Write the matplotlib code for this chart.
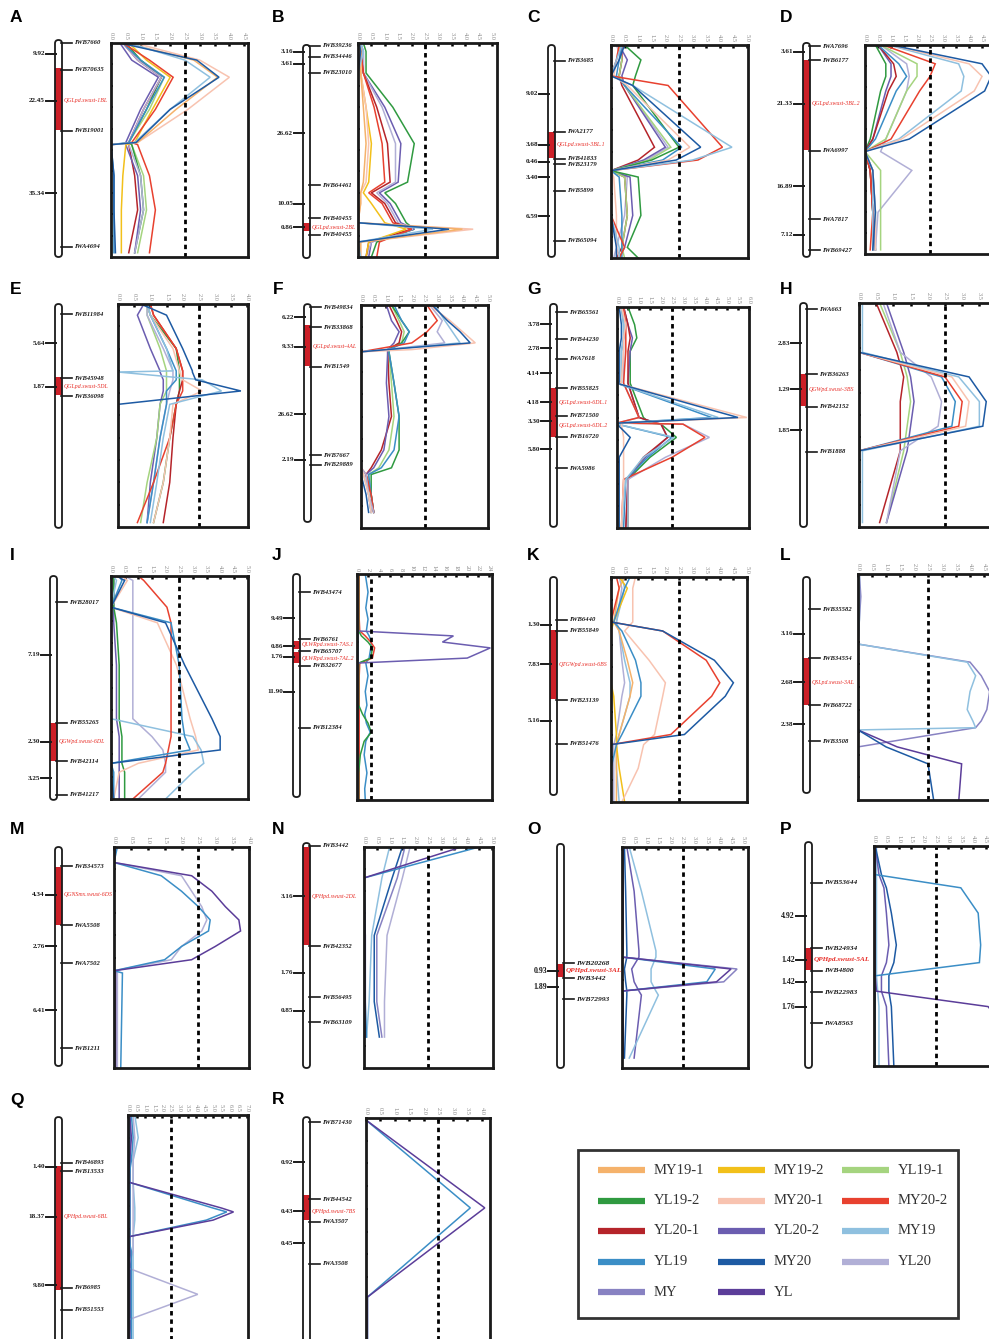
import numpy as np
import matplotlib
matplotlib.use('Agg')
import matplotlib.pyplot as plt
from matplotlib.patches import FancyBboxPatch, Rectangle

W, H = 989, 1339
SERIF = ['Liberation Serif', 'DejaVu Serif']

colors = {
    'MY19-1': '#f5b26b', 'MY19-2': '#f2c01a', 'YL19-1': '#a5d47f',
    'YL19-2': '#2f9a40', 'MY20-1': '#f8c3b0', 'MY20-2': '#e8412f',
    'YL20-1': '#b5242a', 'YL20-2': '#6b5db0', 'MY19': '#8fc0df',
    'YL19': '#3b8ec6', 'MY20': '#1d5aa3', 'YL20': '#b1afd6',
    'MY': '#8882c2', 'YL': '#5b3d99',
}
series_order = list(colors.keys())

# ---- data: positions are % of chromosome length (top = 0) ----
A_markers = ['IWB7660', 'IWB70635', 'IWB19001', 'IWA4694']
A_marker_pos = [0, 12.6, 41.1, 95.3]
A_dist = ['9.92', '22.45', '35.34']
A_dist_pos = [5.1, 27.1, 70.1]
A_bar = (-1.4, 100)
A_qtl = [(11.7, 40.7)]
A_qtl_names = ['QGLpd.swust-1BL']
A_qtl_pos = [27.1]
A_pos = [0, 8, 16, 31, 46.5, 47.5, 62, 78, 98]
A_lod = {
    'YL19-1': [0.5, 1.0, 1.8, 1.3, 0.6, 0.7, 1.1, 1.2, 0.9],
    'YL19-2': [0.5, 1.0, 1.7, 1.2, 0.6, 0.7, 1.0, 1.1, 0.8],
    'YL20-1': [0.4, 0.9, 1.7, 1.1, 0.6, 0.6, 0.8, 0.9, 0.6],
    'YL20-2': [0.3, 0.7, 1.6, 1.0, 0.5, 0.5, 0.9, 1.0, 0.8],
    'YL20': [0.4, 0.9, 1.7, 1.1, 0.6, 0.6, 1.0, 1.1, 0.8],
    'YL19': [0.4, 1.0, 1.8, 1.2, 0.6, 0.0, 0.1, 0.1, 0.1],
    'MY19-2': [0.6, 1.2, 2.0, 1.4, 0.8, 0.5, 0.4, 0.35, 0.35],
    'MY20-2': [0.4, 1.3, 2.1, 1.5, 0.7, 0.9, 1.3, 1.5, 1.3],
    'MY20-1': [0.8, 3.0, 4.0, 2.6, 0.9, 0.0, 0.0, 0.0, 0.0],
    'MY19-1': [0.5, 2.8, 3.6, 2.2, 0.9, 0.0, 0.0, 0.0, 0.0],
    'MY19': [0.6, 2.5, 3.35, 2.0, 0.8, 0.0, 0.0, 0.0, 0.0],
    'MY20': [0.3, 2.9, 3.65, 2.0, 0.85, 0.0, 0.1, 0.1, 0.15],
}

B_markers = ['IWB39236', 'IWB34446', 'IWB23010', 'IWB64461', 'IWB40455', 'IWB40455']
B_marker_pos = [1.4, 6.5, 14.0, 66.4, 81.8, 89.7]
B_dist = ['3.16', '3.61', '26.62', '10.05', '0.86']
B_dist_pos = [4.2, 9.8, 42.1, 75.2, 86.0]
B_bar = (0.9, 100.5)
B_qtl = [(84.1, 87.9)]
B_qtl_names = ['QGLpd.swust-2BL']
B_qtl_pos = [86.0]
B_pos = [0, 4, 14, 30, 47, 65, 70, 75, 84, 87, 93, 100]
B_lod = {
    'YL19-2': [0.2, 0.3, 0.3, 1.3, 2.1, 1.85, 1.0, 1.4, 1.8, 2.1, 0.7, 0.5],
    'YL20-2': [0.1, 0.2, 0.2, 1.0, 1.6, 1.5, 0.8, 1.2, 1.6, 2.1, 0.5, 0.4],
    'YL20': [0.1, 0.2, 0.2, 0.9, 1.4, 1.4, 0.7, 1.1, 1.5, 2.05, 0.5, 0.3],
    'YL20-1': [0.1, 0.1, 0.2, 0.7, 1.1, 1.2, 0.5, 1.0, 1.4, 2.0, 0.4, 0.3],
    'MY20-2': [0.1, 0.1, 0.2, 0.6, 0.9, 1.0, 0.4, 0.9, 1.3, 2.0, 0.8, 0.7],
    'MY19-2': [0.1, 0.1, 0.1, 0.3, 0.5, 0.4, 0.2, 0.5, 1.0, 1.8, 0.4, 0.3],
    'MY20-1': [0.1, 0.1, 0.1, 0.3, 0.4, 0.3, 0.1, 0.1, 0.0, 4.3, 0.1, 0.1],
    'MY19-1': [0.1, 0.1, 0.1, 0.2, 0.3, 0.2, 0.1, 0.1, 0.0, 3.9, 0.1, 0.1],
    'MY19': [0.1, 0.2, 0.0, 0.0, 0.0, 0.0, 0.0, 0.0, 0.0, 2.8, 0.0, 0.1],
    'MY20': [0.05, 0.1, 0.0, 0.0, 0.0, 0.0, 0.0, 0.0, 0.0, 3.4, 0.0, 0.0],
}

C_markers = ['IWB3685', 'IWA2177', 'IWB41833', 'IWB23179', 'IWB5899', 'IWB65094']
C_marker_pos = [7.5, 40.8, 53.5, 55.9, 68.5, 92.0]
C_dist = ['9.02', '3.68', '0.46', '3.40', '6.59']
C_dist_pos = [23.0, 46.9, 54.9, 62.0, 80.3]
C_bar = (0, 99.5)
C_qtl = [(40.8, 53.1)]
C_qtl_names = ['QGLpd.swust-3BL.1']
C_qtl_pos = [46.9]
C_pos = [0, 7, 14.5, 19, 48, 54, 59, 62, 80, 95, 100]
C_lod = {
    'YL20': [0.2, 0.4, 0.3, 0.5, 2.1, 1.3, 0.0, 0.6, 0.5, 0.2, 0.1],
    'YL20-1': [0.4, 0.4, 0.3, 0.4, 1.6, 1.0, 0.0, 0.5, 0.6, 0.4, 0.2],
    'YL20-2': [0.3, 0.6, 0.4, 0.5, 2.0, 1.2, 0.0, 0.7, 0.8, 0.5, 0.3],
    'YL19-1': [0.3, 0.4, 0.3, 0.5, 2.2, 1.4, 0.0, 0.5, 0.6, 0.4, 0.5],
    'YL19-2': [0.5, 1.1, 0.9, 0.8, 2.5, 1.5, 0.0, 1.0, 1.1, 0.6, 1.0],
    'YL19': [0.4, 0.3, 0.2, 0.5, 2.6, 1.9, 0.0, 0.3, 0.4, 0.4, 0.4],
    'MY20-1': [0.3, 0.2, 0.1, 0.6, 2.9, 2.1, 0.0, 0.1, 0.2, 0.2, 0.3],
    'MY20-2': [0.3, 0.2, 0.0, 2.1, 4.1, 3.2, 0.0, 0.0, 0.0, 0.5, 0.3],
    'MY19': [0.4, 0.2, 0.0, 0.8, 4.45, 3.0, 0.0, 0.0, 0.0, 0.3, 0.3],
    'MY20': [0.5, 0.3, 0.0, 0.8, 3.3, 2.4, 0.0, 0.0, 0.0, 0.2, 0.2],
}

D_markers = ['IWA7696', 'IWB6177', 'IWA6997', 'IWA7817', 'IWB69427']
D_marker_pos = [0.5, 7.2, 50.7, 83.3, 98.1]
D_dist = ['3.61', '21.33', '16.89', '7.12']
D_dist_pos = [3.3, 28.2, 67.5, 90.9]
D_bar = (-1, 101.4)
D_qtl = [(7.2, 50.2)]
D_qtl_names = ['QGLpd.swust-3BL.2']
D_qtl_pos = [28.2]
D_pos = [0, 9, 15, 22, 45, 51, 60, 80, 98]
D_lod = {
    'YL19-2': [0.4, 0.8, 0.8, 0.6, 0.2, 0.0, 0.2, 0.3, 0.4],
    'YL20-2': [0.5, 1.0, 1.0, 0.8, 0.3, 0.0, 0.2, 0.3, 0.4],
    'YL20-1': [0.5, 1.1, 1.2, 0.9, 0.3, 0.0, 0.2, 0.3, 0.3],
    'YL19': [0.5, 1.3, 1.6, 1.2, 0.4, 0.0, 0.3, 0.4, 0.4],
    'YL20': [0.6, 1.6, 1.7, 1.6, 0.8, 0.6, 1.8, 0.5, 0.4],
    'YL19-1': [0.6, 2.0, 2.0, 1.6, 0.8, 0.0, 0.6, 0.6, 0.6],
    'MY20-2': [0.7, 2.7, 2.5, 2.1, 1.0, 0.0, 0.2, 0.3, 0.2],
    'MY19': [0.9, 3.6, 3.8, 3.7, 1.3, 0.0, 0.3, 0.3, 0.3],
    'MY20-1': [1.0, 4.0, 4.5, 4.2, 1.4, 0.0, 0.3, 0.4, 0.4],
    'MY20': [1.0, 4.5, 4.85, 4.6, 1.7, 0.0, 0.3, 0.4, 0.3],
}

E_markers = ['IWB11984', 'IWB45948', 'IWB36098']
E_marker_pos = [4.5, 33.2, 41.3]
E_dist = ['5.64', '1.87']
E_dist_pos = [17.5, 37.2]
E_bar = (0, 100.4)
E_qtl = [(32.7, 40.8)]
E_qtl_names = ['QGLpd.swust-5DL']
E_qtl_pos = [37.2]
E_pos = [0, 5, 20, 30, 30.5, 34, 39, 45, 60, 80, 98]
E_lod = {
    'YL20-2': [0.8, 0.6, 1.0, 1.3, 1.3, 1.4, 1.4, 1.3, 1.2, 1.0, 0.9],
    'YL19-1': [0.9, 0.9, 1.3, 1.5, 1.5, 1.5, 1.5, 1.3, 1.2, 0.9, 0.7],
    'YL20': [0.9, 0.9, 1.4, 1.7, 1.7, 1.7, 1.6, 1.5, 1.3, 1.1, 0.9],
    'YL19': [0.9, 1.0, 1.5, 1.8, 1.8, 1.8, 1.5, 1.5, 1.3, 1.1, 0.9],
    'YL19-2': [0.9, 1.0, 1.8, 1.9, 1.9, 1.9, 1.9, 1.8, 1.6, 1.4, 1.1],
    'YL20-1': [1.0, 1.1, 1.8, 2.0, 2.0, 2.0, 1.9, 1.8, 1.7, 1.6, 1.4],
    'MY20-2': [1.0, 1.1, 1.8, 2.0, 2.0, 2.0, 2.0, 1.8, 1.6, 1.1, 0.6],
    'MY20-1': [0.9, 1.0, 1.7, 1.9, 1.9, 2.0, 2.6, 1.7, 1.6, 1.4, 1.1],
    'MY19': [0.9, 1.0, 1.5, 1.7, 0.0, 2.6, 3.2, 1.6, 1.4, 1.2, 1.0],
    'MY20': [0.7, 1.5, 2.0, 2.3, 2.3, 2.4, 3.8, 0.0, 0.0, 0.0, 0.0],
}

F_markers = ['IWB49834', 'IWB33868', 'IWB1549', 'IWB7667', 'IWB29889']
F_marker_pos = [0.9, 9.9, 27.8, 67.3, 71.7]
F_dist = ['6.22', '9.33', '26.62', '2.19']
F_dist_pos = [5.4, 18.8, 48.9, 69.5]
F_bar = (-0.4, 97.3)
F_qtl = [(9.0, 27.4)]
F_qtl_names = ['QGLpd.swust-4AL']
F_qtl_pos = [18.8]
F_pos = [0, 7, 12, 17, 20, 21, 35, 50, 65, 73, 76, 85, 93]
F_lod = {
    'YL19-1': [1.2, 1.5, 1.7, 1.6, 1.1, 1.1, 1.2, 1.3, 1.1, 0.7, 0.3, 0.3, 0.4],
    'YL20-1': [1.1, 1.4, 1.6, 1.5, 1.05, 1.05, 1.1, 1.2, 0.8, 0.4, 0.2, 0.4, 0.5],
    'YL20-2': [1.0, 1.2, 1.5, 1.3, 1.05, 1.05, 1.0, 1.1, 0.9, 0.5, 0.2, 0.3, 0.4],
    'YL19-2': [1.2, 1.6, 1.9, 1.6, 1.1, 1.1, 1.3, 1.5, 1.5, 1.2, 0.4, 0.4, 0.5],
    'YL19': [1.3, 1.6, 1.9, 1.7, 1.1, 1.1, 1.3, 1.5, 1.3, 0.8, 0.3, 0.4, 0.5],
    'MY20-2': [2.6, 3.0, 2.6, 2.0, 0.5, 0.0, 0.0, 0.0, 0.0, 0.0, 0.2, 0.4, 0.5],
    'YL20': [2.7, 3.2, 3.0, 3.3, 1.0, 0.0, 0.0, 0.0, 0.0, 0.0, 0.2, 0.3, 0.5],
    'MY19': [2.9, 3.3, 3.6, 3.9, 1.0, 0.0, 0.0, 0.0, 0.0, 0.0, 0.1, 0.3, 0.4],
    'MY20-1': [2.7, 3.5, 4.0, 4.5, 2.0, 0.0, 0.0, 0.0, 0.0, 0.0, 0.1, 0.3, 0.4],
    'MY20': [2.8, 3.4, 3.9, 4.3, 1.0, 0.0, 0.0, 0.0, 0.0, 0.0, 0.0, 0.2, 0.3],
}

G_markers = ['IWB65561', 'IWB44230', 'IWA7618', 'IWB55825', 'IWB71500', 'IWB16720', 'IWA5986']
G_marker_pos = [2.3, 14.5, 23.5, 36.7, 49.3, 58.8, 72.9]
G_dist = ['3.78', '2.78', '4.14', '4.18', '3.30', '5.80']
G_dist_pos = [7.7, 18.6, 29.9, 43.0, 51.6, 64.3]
G_bar = (-1.4, 99.5)
G_qtl = [(36.7, 58.8)]
G_qtl_names = ['QGLpd.swust-6DL.1', 'QGLpd.swust-6DL.2']
G_qtl_pos = [43.0, 53.4]
G_pos = [0, 8, 14, 20, 34, 34.5, 50, 52.5, 53, 59, 68, 78, 100]
G_lod = {
    'YL19-2': [0.5, 0.8, 0.9, 0.6, 0.6, 0.6, 1.2, 1.5, 2.0, 2.7, 1.5, 0.5, 0.5],
    'YL20-2': [0.3, 0.5, 0.7, 0.6, 0.5, 0.5, 1.0, 1.8, 2.0, 2.3, 1.3, 0.5, 0.4],
    'YL20-1': [0.3, 0.5, 0.6, 0.5, 0.5, 0.5, 1.0, 1.8, 2.0, 2.3, 1.2, 0.5, 0.4],
    'YL20': [0.3, 0.4, 0.3, 0.3, 0.3, 0.3, 1.0, 0.0, 3.0, 4.2, 2.2, 0.5, 0.5],
    'MY20-2': [0.3, 0.4, 0.4, 0.4, 0.3, 0.3, 1.0, 0.0, 3.0, 4.0, 2.5, 0.3, 0.2],
    'YL19': [0.2, 0.3, 0.3, 0.2, 0.2, 0.0, 4.3, 0.1, 0.0, 2.5, 1.4, 0.4, 0.3],
    'MY19': [0.2, 0.3, 0.3, 0.2, 0.2, 0.0, 4.6, 0.1, 0.0, 2.6, 1.2, 0.4, 0.2],
    'MY20-1': [0.2, 0.4, 0.3, 0.3, 0.2, 0.0, 5.9, 0.2, 0.2, 0.3, 0.3, 0.3, 0.2],
    'MY20': [0.1, 0.2, 0.2, 0.1, 0.1, 0.0, 5.5, 0.1, 0.0, 0.6, 0.1, 0.1, 0.1],
}

H_markers = ['IWA663', 'IWB36263', 'IWB42152', 'IWB1888']
H_marker_pos = [2.7, 31.7, 46.4, 66.5]
H_dist = ['2.83', '1.29', '1.85']
H_dist_pos = [17.9, 38.4, 56.7]
H_bar = (0, 100)
H_qtl = [(31.7, 46.0)]
H_qtl_names = ['QGWpd.swust-3BS']
H_qtl_pos = [38.4]
H_pos = [0, 22, 33, 44, 55, 66, 98]
H_lod = {
    'YL19-2': [0.0, 0.0, 0.0, 0.0, 0.0, 0.0, 0.0],
    'YL20-1': [0.5, 1.1, 1.3, 1.2, 1.2, 1.2, 0.6],
    'YL19-1': [0.6, 1.2, 1.4, 1.5, 1.4, 1.3, 0.8],
    'YL20-2': [0.8, 1.3, 1.5, 1.6, 1.5, 1.4, 0.8],
    'YL20': [0.7, 1.2, 2.1, 2.4, 2.3, 1.2, 0.8],
    'YL19': [0.0, 0.0, 2.4, 2.8, 2.7, 0.0, 0.0],
    'MY20-2': [0.0, 0.0, 2.5, 3.0, 2.9, 0.0, 0.0],
    'MY20-1': [0.0, 0.0, 2.7, 3.2, 3.1, 0.0, 0.0],
    'MY19': [0.1, 0.1, 2.9, 3.5, 3.5, 0.1, 0.1],
    'MY20': [0.0, 0.0, 3.2, 3.7, 3.6, 0.0, 0.0],
}

I_markers = ['IWB28017', 'IWB55265', 'IWB42114', 'IWB41217']
I_marker_pos = [11.7, 65.9, 83.0, 98.2]
I_dist = ['7.19', '2.30', '3.25']
I_dist_pos = [35.4, 74.4, 90.6]
I_bar = (0, 100.4)
I_qtl = [(65.9, 83.0)]
I_qtl_names = ['QGWpd.swust-6DL']
I_qtl_pos = [74.4]
I_pos = [0, 2, 14, 21, 40, 64, 72, 78, 84, 88, 100]
I_lod = {
    'YL20-2': [0.1, 0.1, 0.1, 0.1, 0.2, 0.2, 0.3, 0.3, 0.3, 0.3, 0.3],
    'YL19-2': [0.1, 0.1, 0.1, 0.2, 0.3, 0.3, 0.4, 0.4, 0.4, 0.5, 0.5],
    'YL20': [0.5, 0.8, 0.8, 0.8, 0.8, 0.8, 1.5, 1.9, 2.0, 2.0, 1.0],
    'MY20-1': [0.4, 0.6, 0.0, 1.7, 2.4, 2.9, 3.1, 3.2, 1.0, 0.3, 0.1],
    'MY19': [0.1, 0.2, 0.0, 0.0, 0.0, 0.0, 3.0, 3.3, 3.4, 3.0, 2.0],
    'MY20-2': [1.0, 1.2, 2.05, 2.2, 2.2, 2.2, 2.2, 2.1, 2.0, 1.9, 0.8],
    'YL19': [0.3, 0.4, 0.0, 2.2, 2.5, 2.6, 2.7, 2.9, 0.0, 0.1, 0.1],
    'MY20': [0.2, 0.5, 0.0, 2.0, 2.7, 3.7, 4.0, 4.0, 0.0, 0.0, 0.1],
}

J_markers = ['IWB43474', 'IWB6761', 'IWB65707', 'IWB32677', 'IWB12384']
J_marker_pos = [8.0, 28.8, 34.1, 40.7, 68.1]
J_dist = ['9.49', '0.86', '1.76', '11.90']
J_dist_pos = [19.5, 31.9, 36.7, 52.2]
J_bar = (0, 98.7)
J_qtl = [(29.6, 33.0), (34.5, 39.4)]
J_qtl_names = ['QLWRpd.swust-7AS.1', 'QLWRpd.swust-7AL.2']
J_qtl_pos = [31.0, 37.2]
J_pos = [0, 8, 15, 20, 25.2, 27.4, 30.1, 32.7, 37.2, 39.4, 45, 52, 58, 62, 66, 70, 74, 80, 88, 95, 100]
J_lod = {
    'MY20': [0.1] * 21,
    'YL19': [1.5, 2.0, 1.6, 2.0, 1.7, 2.2, 2.6, 2.5, 2.2, 1.6, 2.0, 1.5, 1.8, 1.4, 1.7, 2.4, 1.6, 1.3, 1.8, 1.4, 1.5],
    'MY20-2': [0.4, 0.4, 0.4, 0.4, 0.5, 1.5, 2.5, 3.2, 2.8, 0.5, 0.4, 0.4, 0.4, 0.4, 0.4, 0.4, 0.4, 0.4, 0.4, 0.4, 0.4],
    'YL19-2': [0.3, 0.3, 0.3, 0.3, 0.3, 0.8, 2.0, 2.8, 2.5, 0.3, 0.3, 0.3, 0.3, 1.0, 2.0, 2.6, 1.3, 0.6, 0.3, 0.3, 0.3],
    'YL20-2': [0.2, 0.2, 0.2, 0.2, 0.2, 17.5, 15.5, 24.2, 20.0, 0.2, 0.2, 0.2, 0.2, 0.2, 0.2, 0.2, 0.2, 0.2, 0.2, 0.2, 0.2],
}

K_markers = ['IWB6440', 'IWB55849', 'IWB23139', 'IWB51476']
K_marker_pos = [19.1, 24.0, 54.7, 74.2]
K_dist = ['1.30', '7.83', '5.16']
K_dist_pos = [21.3, 38.7, 64.0]
K_bar = (0, 96.9)
K_qtl = [(23.6, 54.2)]
K_qtl_names = ['QTGWpd.swust-6BS']
K_qtl_pos = [38.7]
K_pos = [0, 5, 20, 24, 37, 47, 53, 70, 74.5, 85, 100]
K_lod = {
    'YL20': [0.3, 0.4, 0.2, 0.3, 0.4, 0.5, 0.4, 0.2, 0.1, 0.1, 0.1],
    'MY19': [0.4, 0.5, 0.2, 0.3, 0.5, 0.7, 0.7, 0.3, 0.2, 0.2, 0.3],
    'MY19-1': [0.5, 0.3, 0.1, 0.3, 0.6, 0.8, 0.7, 0.3, 0.2, 0.2, 0.2],
    'MY19-2': [0.3, 0.6, 0.1, 0.0, 0.0, 0.0, 0.1, 0.2, 0.2, 0.3, 0.5],
    'YL19': [0.7, 0.5, 0.1, 0.4, 0.9, 1.1, 1.1, 0.4, 0.2, 0.0, 0.0],
    'MY20-1': [0.9, 0.8, 0.8, 0.5, 1.4, 2.0, 1.9, 1.6, 1.2, 1.0, 0.4],
    'MY20-2': [0.2, 0.3, 0.0, 1.9, 3.5, 4.0, 3.7, 2.2, 0.0, 0.0, 0.0],
    'MY20': [0.0, 0.0, 0.0, 1.9, 3.8, 4.5, 4.2, 2.7, 0.0, 0.0, 0.0],
}

L_markers = ['IWB35582', 'IWB34554', 'IWB68722', 'IWB3508']
L_marker_pos = [15.5, 37.2, 58.0, 73.9]
L_dist = ['3.16', '2.68', '2.38']
L_dist_pos = [26.5, 47.8, 66.4]
L_bar = (1.3, 96.9)
L_qtl = [(37.2, 58.0)]
L_qtl_names = ['QSLpd.swust-3AL']
L_qtl_pos = [47.8]
L_pos = [0, 10, 20, 31, 39, 45, 52, 60, 65, 68, 69, 76.5, 84, 100]
L_lod = {
    'MY': [0.05, 0.1, 0.05, 0.0, 4.0, 4.4, 4.7, 4.6, 4.4, 4.2, 3.7, 0.0, 0.0, 0.0],
    'MY19': [0.05, 0.05, 0.05, 0.0, 3.9, 4.2, 4.0, 3.9, 4.1, 4.2, 0.0, 0.0, 0.0, 0.0],
    'YL': [0.0, 0.0, 0.0, 0.0, 0.0, 0.0, 0.0, 0.0, 0.0, 0.0, 0.0, 1.4, 3.7, 3.6],
    'MY20': [0.0, 0.0, 0.0, 0.0, 0.0, 0.0, 0.0, 0.0, 0.0, 0.0, 0.0, 1.0, 2.5, 2.7],
}

M_markers = ['IWB34573', 'IWA5508', 'IWA7502', 'IWB1211']
M_marker_pos = [8.6, 35.3, 52.5, 91.0]
M_dist = ['4.34', '2.76', '6.41']
M_dist_pos = [21.7, 44.8, 73.8]
M_bar = (0, 99.1)
M_qtl = [(9.0, 35.3)]
M_qtl_names = ['QGNSmx.swust-6DS']
M_qtl_pos = [21.7]
M_pos = [0, 7, 13, 20, 27, 33, 38, 45, 51, 56, 57, 100]
M_lod = {
    'YL20': [0.05, 0.0, 2.0, 2.3, 2.6, 2.75, 2.6, 2.0, 1.7, 0.0, 0.1, 0.1],
    'YL19': [0.1, 0.0, 1.4, 2.0, 2.5, 2.85, 2.8, 2.0, 1.5, 0.0, 0.25, 0.2],
    'YL': [0.05, 0.0, 2.3, 2.9, 3.3, 3.7, 3.75, 3.0, 2.3, 0.0, 0.05, 0.05],
}

N_markers = ['IWB3442', 'IWB42352', 'IWB56495', 'IWB63109']
N_marker_pos = [-0.5, 44.8, 67.9, 79.2]
N_dist = ['3.16', '1.76', '0.85']
N_dist_pos = [22.2, 57.0, 74.2]
N_bar = (-1.8, 100)
N_qtl = [(0, 44.3)]
N_qtl_names = ['QPHpd.swust-2DL']
N_qtl_pos = [22.2]
N_pos = [0, 14, 40, 70, 86]
N_lod = {
    'MY19': [1.0, 0.7, 0.3, 0.2, 0.1],
    'YL20': [1.8, 1.5, 0.9, 0.8, 0.8],
    'MY': [1.6, 1.3, 0.5, 0.5, 0.7],
    'MY20': [1.5, 1.1, 0.4, 0.4, 0.6],
    'YL19': [4.5, 0.0, 0.05, 0.05, 0.1],
    'YL': [3.8, 0.0, 0.05, 0.05, 0.05],
}

O_markers = ['IWB20268', 'IWB3442', 'IWB72993']
O_marker_pos = [52.5, 59.3, 68.8]
O_dist = ['0.93', '1.89']
O_dist_pos = [56.1, 63.3]
O_bar = (-1.4, 100)
O_qtl = [(52.9, 58.8)]
O_qtl_names = ['QPHpd.swust-3AL']
O_qtl_pos = [56.1]
O_pos = [0, 20, 47, 49.8, 55.2, 61, 65.2, 67, 95.5]
O_lod = {
    'MY20': [0.1, 0.15, 0.2, 0.2, 0.1, 0.15, 0.2, 0.2, 0.1],
    'YL20-2': [0.2, 0.5, 0.7, 0.7, 0.4, 0.5, 0.7, 0.8, 0.5],
    'MY19': [0.3, 0.8, 1.4, 1.4, 1.2, 1.2, 1.4, 1.5, 0.3],
    'MY': [0.05, 0.05, 0.05, 0.0, 4.75, 4.2, 0.0, 0.05, 0.05],
    'YL19': [0.05, 0.05, 0.05, 0.0, 3.85, 3.5, 0.0, 0.05, 0.05],
    'YL': [0.05, 0.05, 0.05, 0.0, 4.5, 3.9, 0.0, 0.05, 0.05],
}

P_markers = ['IWB53644', 'IWB24934', 'IWB4800', 'IWB22983', 'IWA8563']
P_marker_pos = [16.8, 46.4, 56.8, 66.4, 80.5]
P_dist = ['4.92', '1.42', '1.42', '1.76']
P_dist_pos = [31.8, 51.8, 61.8, 73.2]
P_bar = (-1.8, 100.9)
P_qtl = [(46.4, 56.4)]
P_qtl_names = ['QPHpd.swust-5AL']
P_qtl_pos = [51.8]
P_pos = [0, 13, 19, 30.5, 45, 53, 59, 66, 73, 100]
P_lod = {
    'MY19': [0.1, 0.1, 0.1, 0.1, 0.1, 0.1, 0.1, 0.15, 0.2, 0.2],
    'YL20-2': [0.05, 0.2, 0.4, 0.5, 0.6, 0.5, 0.3, 0.3, 0.5, 0.6],
    'MY20': [0.05, 0.3, 0.5, 0.7, 0.9, 0.8, 0.6, 0.6, 0.7, 0.8],
    'YL19': [0.0, 0.05, 3.5, 4.2, 4.3, 4.25, 0.05, 0.05, 0.05, 0.05],
    'YL': [0.05, 0.05, 0.05, 0.05, 0.05, 0.05, 0.05, 0.1, 4.6, 6.5],
}

Q_markers = ['IWB46893', 'IWB13533', 'IWB6985', 'IWB51553']
Q_marker_pos = [21.1, 24.7, 76.2, 85.9]
Q_dist = ['1.40', '18.37', '9.80']
Q_dist_pos = [22.9, 44.9, 74.9]
Q_bar = (0.9, 101.3)
Q_qtl = [(22.5, 77.1)]
Q_qtl_names = ['QPHpd.swust-6BL']
Q_qtl_pos = [44.9]
Q_pos = [0, 10, 20, 29.5, 41, 42.7, 46.3, 53.7, 60, 67.4, 79, 90.3, 100]
Q_lod = {
    'MY20': [0.1] * 13,
    'MY19': [0.4, 0.6, 0.3, 0.3, 0.4, 0.4, 0.4, 0.3, 0.3, 0.3, 0.3, 0.3, 0.3],
    'YL20': [0.3, 0.4, 0.3, 0.3, 0.3, 0.3, 0.3, 0.3, 0.3, 0.0, 4.1, 0.0, 0.2],
    'YL19': [0.2, 0.3, 0.2, 0.0, 5.0, 5.8, 4.6, 0.0, 0.2, 0.2, 0.2, 0.2, 0.2],
    'YL': [0.1, 0.2, 0.1, 0.0, 5.5, 6.2, 5.0, 0.0, 0.1, 0.1, 0.1, 0.1, 0.1],
}

R_markers = ['IWB71430', 'IWB44542', 'IWA3507', 'IWA3508']
R_marker_pos = [1.8, 35.7, 45.8, 64.3]
R_dist = ['0.92', '0.43', '0.45']
R_dist_pos = [19.4, 41.0, 55.1]
R_bar = (-0.4, 100)
R_qtl = [(33.9, 44.9)]
R_qtl_names = ['QPHpd.swust-7BS']
R_qtl_pos = [41.0]
R_pos = [0.9, 39.6, 78.9, 100]
R_lod = {
    'YL19': [0.0, 3.6, 0.05, 0.05],
    'YL': [0.0, 4.1, 0.05, 0.05],
}

# ---- layout in pixels: LOD box (left, top, right, bottom), axis max, bar x ----
LAYOUT = {
    'A': dict(box=(111, 43, 248, 257), xmax=4.63, tmax=4.5, bar=55, letter=(10, 18)),
    'B': dict(box=(358, 43, 497, 257), xmax=5.19, tmax=5.0, bar=303, letter=(272, 18)),
    'C': dict(box=(611, 45, 748, 258), xmax=5.04, tmax=5.0, bar=548, letter=(527, 18)),
    'D': dict(box=(865, 45, 1000, 254), xmax=5.19, tmax=4.5, bar=803, letter=(780, 18)),
    'E': dict(box=(118, 304, 248, 527), xmax=4.02, tmax=4.0, bar=55, letter=(10, 290)),
    'F': dict(box=(361, 305, 488, 528), xmax=5.0, tmax=5.0, bar=304, letter=(273, 290)),
    'G': dict(box=(617, 307, 749, 528), xmax=6.0, tmax=6.0, bar=550, letter=(527, 290)),
    'H': dict(box=(859, 303, 1000, 527), xmax=4.1, tmax=3.5, bar=800, letter=(780, 290)),
    'I': dict(box=(111, 576, 248, 799), xmax=5.02, tmax=5.0, bar=50, letter=(10, 555)),
    'J': dict(box=(357, 574, 492, 800), xmax=24.5, tmax=24, step=2, bar=293, letter=(272, 555)),
    'K': dict(box=(611, 577, 747, 802), xmax=5.0, tmax=5.0, bar=550, letter=(527, 555)),
    'L': dict(box=(858, 574, 1000, 800), xmax=5.07, tmax=4.5, bar=803, letter=(780, 555)),
    'M': dict(box=(114, 847, 249, 1068), xmax=4.0, tmax=4.0, bar=55, letter=(10, 830)),
    'N': dict(box=(364, 847, 493, 1068), xmax=5.04, tmax=5.0, bar=303, letter=(272, 830)),
    'O': dict(box=(622, 847, 748, 1068), xmax=5.2, tmax=5.0, bar=557, letter=(527, 830), fs=5.4, qbold=True),
    'P': dict(box=(874, 846, 1000, 1066), xmax=5.08, tmax=4.5, bar=805, letter=(780, 830), fs=5.4, qbold=True),
    'Q': dict(box=(128, 1115, 248, 1342), xmax=7.05, tmax=7.0, bar=55, letter=(10, 1100)),
    'R': dict(box=(366, 1118, 490, 1345), xmax=4.28, tmax=4.0, bar=303, letter=(272, 1100)),
}

g = globals()
fig = plt.figure(figsize=(W / 100, H / 100), dpi=100)
fig.patch.set_facecolor('white')


def draw_panel(key):
    lay = LAYOUT[key]
    l, t, r, b = lay['box']
    hpx = b - t
    pos = g[key + '_pos']
    lod = g[key + '_lod']

    ax = fig.add_axes([l / W, 1 - b / H, (r - l) / W, hpx / H])
    ax.set_xlim(0, lay['xmax'])
    ax.set_ylim(100, 0)
    for name, vals in lod.items():
        ax.plot(vals, pos, color=colors[name], lw=1.1, solid_joinstyle='miter')
    ax.axvline(2.5, color='black', lw=2.0, ls=(0, (1.6, 1.4)))
    step = lay.get('step', 0.5)
    ticks = np.arange(0, lay['tmax'] + 1e-9, step)
    ax.set_xticks(ticks)
    if step >= 1:
        ax.set_xticklabels([f'{v:.0f}' for v in ticks])
    else:
        ax.set_xticklabels([f'{v:.1f}' for v in ticks])
    ax.xaxis.tick_top()
    ax.tick_params(axis='x', direction='in', length=2.5, width=1.8, pad=2,
                   labelsize=4.6, labelcolor='#8a8a8a', labelrotation=270)
    for lab in ax.get_xticklabels():
        lab.set_family(SERIF)
    ax.set_yticks(np.arange(10, 100, 10))
    ax.set_yticklabels([])
    ax.tick_params(axis='y', direction='in', length=1.5, width=1.4)
    for s in ax.spines.values():
        s.set_linewidth(2.0)
        s.set_color('#1a1a1a')

    # chromosome
    bx = lay['bar']
    cax = fig.add_axes([(bx - 70) / W, 1 - b / H, 140 / W, hpx / H])
    cax.set_xlim(-70, 70)
    cax.set_ylim(100, 0)
    cax.axis('off')
    fs = lay.get('fs', 4.8)
    y0, y1 = g[key + '_bar']
    asp = 100.0 / hpx
    cax.add_patch(FancyBboxPatch((0, y0), 7, y1 - y0, boxstyle='round,pad=0,rounding_size=3.5',
                                 mutation_aspect=asp, fc='white', ec='none', clip_on=False, zorder=1))
    for q0, q1 in g[key + '_qtl']:
        cax.add_patch(Rectangle((0, q0), 7, q1 - q0, fc='#cc1f27', ec='none', clip_on=False, zorder=2))
    cax.add_patch(FancyBboxPatch((0, y0), 7, y1 - y0, boxstyle='round,pad=0,rounding_size=3.5',
                                 mutation_aspect=asp, fc='none', ec='#1a1a1a', lw=1.3,
                                 clip_on=False, zorder=3))
    for name, p in zip(g[key + '_markers'], g[key + '_marker_pos']):
        cax.plot([6, 17], [p, p], color='#1a1a1a', lw=1.2, clip_on=False, zorder=4)
        cax.text(19, p, name, fontsize=fs, family=SERIF, style='italic', weight='bold',
                 va='center', ha='left', color='#1a1a1a')
    for name, p in zip(g[key + '_dist'], g[key + '_dist_pos']):
        cax.plot([-9, 0.5], [p, p], color='#1a1a1a', lw=1.4, clip_on=False, zorder=4)
        cax.text(-10, p, name, fontsize=fs + 0.3, family=SERIF, weight='bold',
                 va='center', ha='right', color='#1a1a1a')
    qbold = lay.get('qbold', False)
    for name, p in zip(g[key + '_qtl_names'], g[key + '_qtl_pos']):
        cax.text(9, p, name, fontsize=fs - 0.6 if not qbold else fs - 0.2, family=SERIF,
                 style='italic', weight='bold' if qbold else 'normal',
                 va='center', ha='left', color='#e8302a')

    lx, ly = lay['letter']
    fig.text(lx / W, 1 - ly / H, key, fontsize=12.5, weight='bold',
             family=['Liberation Sans', 'DejaVu Sans'], va='center', ha='left')


for key in LAYOUT:
    draw_panel(key)

# legend
lax = fig.add_axes([0, 0, 1, 1])
lax.set_xlim(0, W)
lax.set_ylim(H, 0)
lax.axis('off')
lax.add_patch(Rectangle((578, 1150), 380, 168, fc='white', ec='#333333', lw=2))
col_x = [598, 718, 842]
for i, name in enumerate(series_order):
    row, col = divmod(i, 3)
    x0 = col_x[col]
    y = 1170 + row * 30.5
    lax.plot([x0, x0 + 47], [y, y], color=colors[name], lw=4.5, solid_capstyle='butt')
    lax.text(x0 + 56, y, name, fontsize=10.5, family=SERIF, color='#333333',
             va='center', ha='left')

fig.savefig('out.png', dpi=100, facecolor='white')
